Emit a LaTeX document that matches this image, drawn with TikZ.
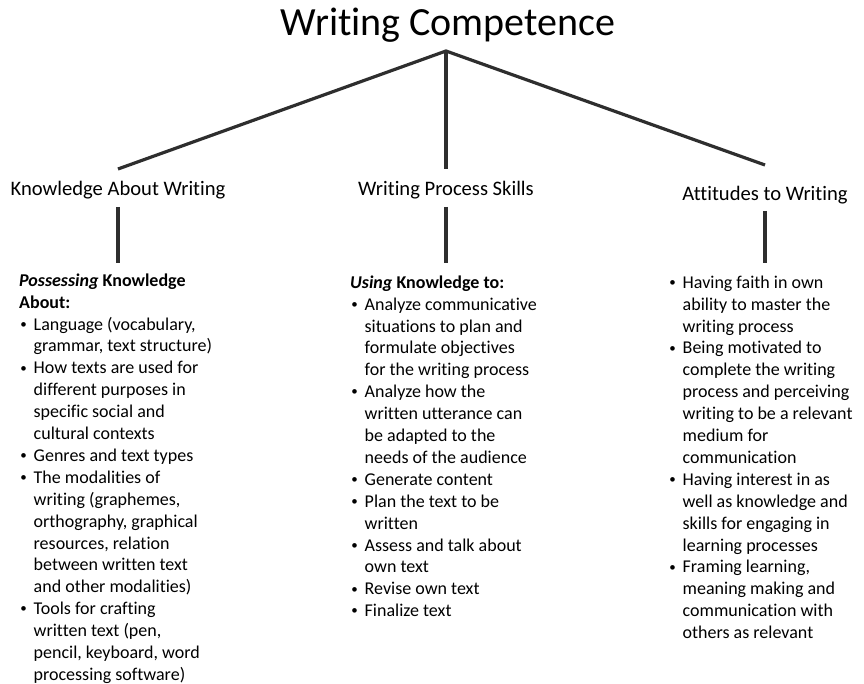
\documentclass[tikz,border=0pt]{standalone}
\usepackage{fontspec}
\setmainfont{Carlito}[Ligatures={NoCommon}]
\newcommand\bul{\makebox[14.5pt][l]{\hspace*{1.2pt}\raisebox{1.8pt}{\fontsize{13}{13}\selectfont•}}}
\newcommand\ind{\hspace*{14.5pt}}
\tikzset{
  conn/.style={line width=3.2pt, draw=black!82},
  head/.style={anchor=base, inner sep=0pt, font=\fontsize{20.6}{24}\selectfont},
  col/.style={anchor=north west, inner sep=0pt, align=left, font=\fontsize{18}{21.9}\selectfont}
}
\begin{document}
\begin{tikzpicture}[x=1pt,y=-1pt]
\useasboundingbox (0,0) rectangle (864,684);
\node[anchor=base, inner sep=0pt, font=\fontsize{40}{48}\selectfont] (title) at (448,36) {Writing Competence};
\coordinate (apex) at (446,51);
\node[head] (kaw) at (118,196) {Knowledge About Writing};
\node[head] (wps) at (446,196) {Writing Process Skills};
\node[head] (atw) at (765,201) {Attitudes to Writing};
\coordinate (kawtop) at (118,169);
\coordinate (wpstop) at (446,169);
\coordinate (atwtop) at (765,165);
\coordinate (kawbot) at (118,207);
\coordinate (wpsbot) at (446,207);
\coordinate (atwbot) at (765,211);
\coordinate (kawend) at (118,263);
\coordinate (wpsend) at (446,263);
\coordinate (atwend) at (765,263);
\draw[conn, line join=miter] (kawtop) -- (apex) -- (atwtop);
\draw[conn] (apex) -- (wpstop);
\draw[conn] (kawbot) -- (kawend);
\draw[conn] (wpsbot) -- (wpsend);
\draw[conn] (atwbot) -- (atwend);
\node[col] (kawlist) at (19,286-15.33) {\strut\textbf{\textit{Possessing} Knowledge}\\
\textbf{About:}\\
\bul Language (vocabulary,\\
\ind grammar, text structure)\\
\bul How texts are used for\\
\ind different purposes in\\
\ind specific social and\\
\ind cultural contexts\\
\bul Genres and text types\\
\bul The modalities of\\
\ind writing (graphemes,\\
\ind orthography, graphical\\
\ind resources, relation\\
\ind between written text\\
\ind and other modalities)\\
\bul Tools for crafting\\
\ind written text (pen,\\
\ind pencil, keyboard, word\\
\ind processing software)};
\node[col] (wpslist) at (350,288-15.33) {\strut\textbf{\textit{Using} Knowledge to:}\\
\bul Analyze communicative\\
\ind situations to plan and\\
\ind formulate objectives\\
\ind for the writing process\\
\bul Analyze how the\\
\ind written utterance can\\
\ind be adapted to the\\
\ind needs of the audience\\
\bul Generate content\\
\bul Plan the text to be\\
\ind written\\
\bul Assess and talk about\\
\ind own text\\
\bul Revise own text\\
\bul Finalize text};
\node[col] (atwlist) at (668,288-15.33) {\strut\bul Having faith in own\\
\ind ability to master the\\
\ind writing process\\
\bul Being motivated to\\
\ind complete the writing\\
\ind process and perceiving\\
\ind writing to be a relevant\\
\ind medium for\\
\ind communication\\
\bul Having interest in as\\
\ind well as knowledge and\\
\ind skills for engaging in\\
\ind learning processes\\
\bul Framing learning,\\
\ind meaning making and\\
\ind communication with\\
\ind others as relevant};
\end{tikzpicture}
\end{document}
